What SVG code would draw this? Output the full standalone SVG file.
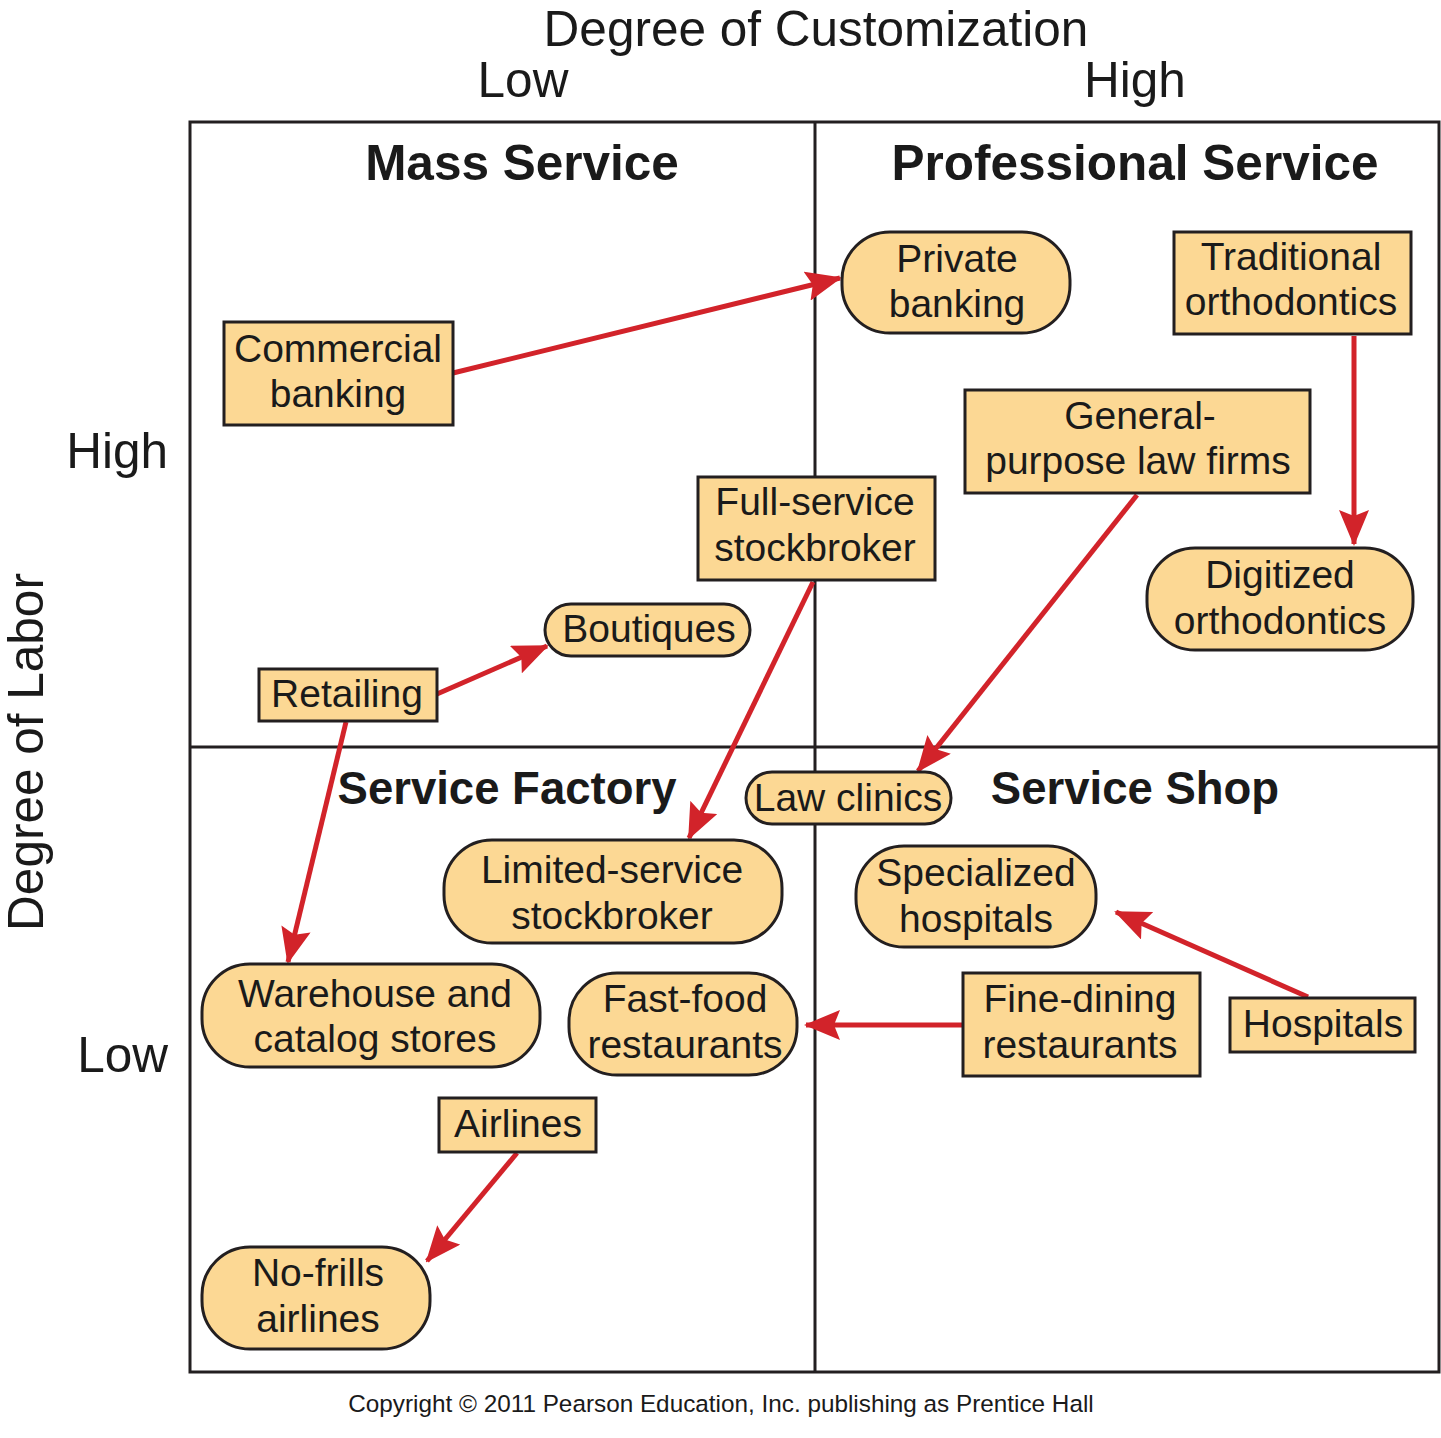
<svg xmlns="http://www.w3.org/2000/svg" width="1441" height="1438" viewBox="0 0 1441 1438">
  <style>
    text { font-family: "Liberation Sans", Arial, sans-serif; fill: #1a1a1a; }
    .axis { font-size: 49.5px; }
    .quad { font-size: 45.5px; font-weight: bold; }
    .quad-top { font-size: 49.5px; font-weight: bold; }
    .node { font-size: 39px; text-anchor: middle; }
    .box { fill: #fcd894; stroke: #231f20; stroke-width: 3; }
    .grid { fill: none; stroke: #231f20; stroke-width: 3; }
    .link { stroke: #d2232a; stroke-width: 5; fill: none; marker-end: url(#head); }
  </style>
  <defs>
    <marker id="head" viewBox="0 0 36 30" refX="34" refY="15" markerWidth="36" markerHeight="30" markerUnits="userSpaceOnUse" orient="auto">
      <path d="M0,0 L36,15 L0,30 L6,15 Z" fill="#d2232a"/>
    </marker>
  </defs>
  <rect width="1441" height="1438" fill="#ffffff"/>

  <!-- axis titles -->
  <text class="axis" x="816" y="46" text-anchor="middle">Degree of Customization</text>
  <text class="axis" x="523" y="97" text-anchor="middle">Low</text>
  <text class="axis" x="1135" y="97" text-anchor="middle">High</text>
  <text class="axis" x="43" y="752" text-anchor="middle" transform="rotate(-90 43 752)">Degree of Labor</text>
  <text class="axis" x="168" y="468" text-anchor="end">High</text>
  <text class="axis" x="168" y="1072" text-anchor="end">Low</text>

  <!-- quadrant grid -->
  <g id="grid">
    <rect class="grid" x="190" y="122" width="1249" height="1250"/>
    <line class="grid" x1="815" y1="122" x2="815" y2="1372"/>
    <line class="grid" x1="190" y1="747" x2="1439" y2="747"/>
  </g>
  <text class="quad-top" x="522" y="180" text-anchor="middle">Mass Service</text>
  <text class="quad-top" x="1135" y="180" text-anchor="middle">Professional Service</text>
  <text class="quad" x="507" y="804" text-anchor="middle">Service Factory</text>
  <text class="quad" x="1135" y="804" text-anchor="middle">Service Shop</text>

  <!-- connectors -->
  <g id="connectors">
    <line class="link" x1="453" y1="373" x2="840" y2="278"/>
    <line class="link" x1="1354" y1="336" x2="1354" y2="544"/>
    <line class="link" x1="1137" y1="495" x2="918" y2="771"/>
    <line class="link" x1="813" y1="582" x2="689" y2="838"/>
    <line class="link" x1="437" y1="694" x2="547" y2="646"/>
    <line class="link" x1="346" y1="722" x2="288" y2="962"/>
    <line class="link" x1="1308" y1="997" x2="1116" y2="912"/>
    <line class="link" x1="963" y1="1025" x2="806" y2="1025"/>
    <line class="link" x1="517" y1="1153" x2="427" y2="1261"/>
  </g>

  <!-- nodes -->
  <g id="commercial-banking">
    <rect class="box" x="224" y="322" width="229" height="103"/>
    <text class="node" x="338" y="362">Commercial</text>
    <text class="node" x="338" y="407">banking</text>
  </g>
  <g id="private-banking">
    <rect class="box" x="842" y="232" width="228" height="101" rx="48"/>
    <text class="node" x="957" y="272">Private</text>
    <text class="node" x="957" y="317">banking</text>
  </g>
  <g id="traditional-orthodontics">
    <rect class="box" x="1174" y="232" width="237" height="102"/>
    <text class="node" x="1291" y="270">Traditional</text>
    <text class="node" x="1291" y="315">orthodontics</text>
  </g>
  <g id="general-purpose-law-firms">
    <rect class="box" x="965" y="390" width="345" height="103"/>
    <text class="node" x="1140" y="429">General-</text>
    <text class="node" x="1138" y="474">purpose law firms</text>
  </g>
  <g id="full-service-stockbroker">
    <rect class="box" x="698" y="477" width="237" height="103"/>
    <text class="node" x="815" y="515">Full-service</text>
    <text class="node" x="815" y="561">stockbroker</text>
  </g>
  <g id="digitized-orthodontics">
    <rect class="box" x="1147" y="548" width="266" height="102" rx="48"/>
    <text class="node" x="1280" y="588">Digitized</text>
    <text class="node" x="1280" y="634">orthodontics</text>
  </g>
  <g id="boutiques">
    <rect class="box" x="545" y="604" width="205" height="52" rx="26"/>
    <text class="node" x="649" y="642">Boutiques</text>
  </g>
  <g id="retailing">
    <rect class="box" x="259" y="669" width="178" height="52"/>
    <text class="node" x="347" y="707">Retailing</text>
  </g>
  <g id="law-clinics">
    <rect class="box" x="746" y="772" width="205" height="52" rx="26"/>
    <text class="node" x="848" y="811">Law clinics</text>
  </g>
  <g id="limited-service-stockbroker">
    <rect class="box" x="444" y="840" width="338" height="103" rx="48"/>
    <text class="node" x="612" y="883">Limited-service</text>
    <text class="node" x="612" y="929">stockbroker</text>
  </g>
  <g id="specialized-hospitals">
    <rect class="box" x="856" y="846" width="240" height="101" rx="48"/>
    <text class="node" x="976" y="886">Specialized</text>
    <text class="node" x="976" y="932">hospitals</text>
  </g>
  <g id="warehouse-and-catalog-stores">
    <rect class="box" x="202" y="964" width="338" height="103" rx="48"/>
    <text class="node" x="375" y="1007">Warehouse and</text>
    <text class="node" x="375" y="1052">catalog stores</text>
  </g>
  <g id="fast-food-restaurants">
    <rect class="box" x="569" y="973" width="228" height="102" rx="48"/>
    <text class="node" x="685" y="1012">Fast-food</text>
    <text class="node" x="685" y="1058">restaurants</text>
  </g>
  <g id="fine-dining-restaurants">
    <rect class="box" x="963" y="973" width="237" height="103"/>
    <text class="node" x="1080" y="1012">Fine-dining</text>
    <text class="node" x="1080" y="1058">restaurants</text>
  </g>
  <g id="hospitals">
    <rect class="box" x="1230" y="998" width="185" height="54"/>
    <text class="node" x="1323" y="1037">Hospitals</text>
  </g>
  <g id="airlines">
    <rect class="box" x="439" y="1098" width="157" height="54"/>
    <text class="node" x="518" y="1137">Airlines</text>
  </g>
  <g id="no-frills-airlines">
    <rect class="box" x="202" y="1247" width="228" height="102" rx="48"/>
    <text class="node" x="318" y="1286">No-frills</text>
    <text class="node" x="318" y="1332">airlines</text>
  </g>

  <text x="721" y="1412" text-anchor="middle" font-size="24.3">Copyright © 2011 Pearson Education, Inc. publishing as Prentice Hall</text>
</svg>
